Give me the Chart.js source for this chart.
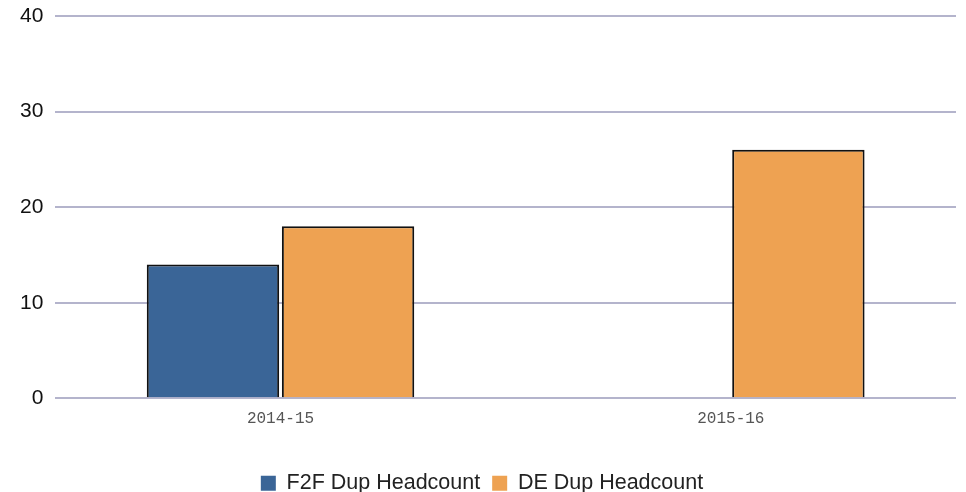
<!DOCTYPE html>
<html>
<head>
<meta charset="utf-8">
<script src="https://cdn.jsdelivr.net/npm/chart.js@4"></script>
<style>
  html, body { margin: 0; padding: 0; background: #fff; }
  #wrap { width: 966px; height: 492px; }
</style>
</head>
<body>
<div id="wrap"><canvas id="MyChart"></canvas></div>
<script>
const years = ['2014-15', '2015-16']
const f2fDup = [14, null]
const deDup = [18, 26]
const yTicks = [0, 10, 20, 30, 40]

const ctx = document.getElementById('MyChart').getContext('2d')

new Chart(ctx, {
    type: 'bar',
    data: {
        labels: years,
        datasets: [{
                label: 'F2F Dup Headcount',
                data: f2fDup,
                backgroundColor: '#3a6597',
                borderColor: '#111',
                borderWidth: 2,
            },
            {
                label: 'DE Dup Headcount',
                data: deDup,
                backgroundColor: '#eea252',
                borderColor: '#111',
                borderWidth: 2,
            }
        ],
    },
    options: {
        responsive: true,
        maintainAspectRatio: false,
        animation: false,
        layout: { padding: { top: 0, left: 8, right: 10, bottom: -12 } },
        datasets: { bar: { categoryPercentage: 0.6, barPercentage: 0.98 } },
        plugins: {
            tooltip: { enabled: false },
            legend: {
                position: 'bottom',
                labels: {
                    boxWidth: 15,
                    boxHeight: 15,
                    padding: 12,
                    color: '#222',
                    font: { family: 'Liberation Sans, Arial', size: 21.5 },
                    generateLabels: (chart) => {
                        const items = Chart.defaults.plugins.legend.labels.generateLabels(chart)
                        items.forEach(it => { it.lineWidth = 0; it.strokeStyle = 'rgba(0,0,0,0)' })
                        return items
                    },
                },
            },
        },
        scales: {
            x: {
                grid: { display: false },
                border: { display: false },
                afterFit: (axis) => { axis.height += 29 },
                ticks: {
                    color: '#555',
                    padding: 3,
                    font: { family: 'Liberation Mono, monospace', size: 16 },
                },
            },
            y: {
                min: 0,
                max: 40,
                afterBuildTicks: (axis) => { axis.ticks = yTicks.map(v => ({ value: v })) },
                afterFit: (axis) => { axis.paddingTop = 16 },
                grid: { color: '#b4b4cc', lineWidth: 2, drawTicks: false },
                border: { display: false },
                ticks: {
                    color: '#111',
                    padding: 12,
                    font: { family: 'Liberation Sans, Arial', size: 21 },
                },
            },
        },
    },
})
</script>
</body>
</html>
